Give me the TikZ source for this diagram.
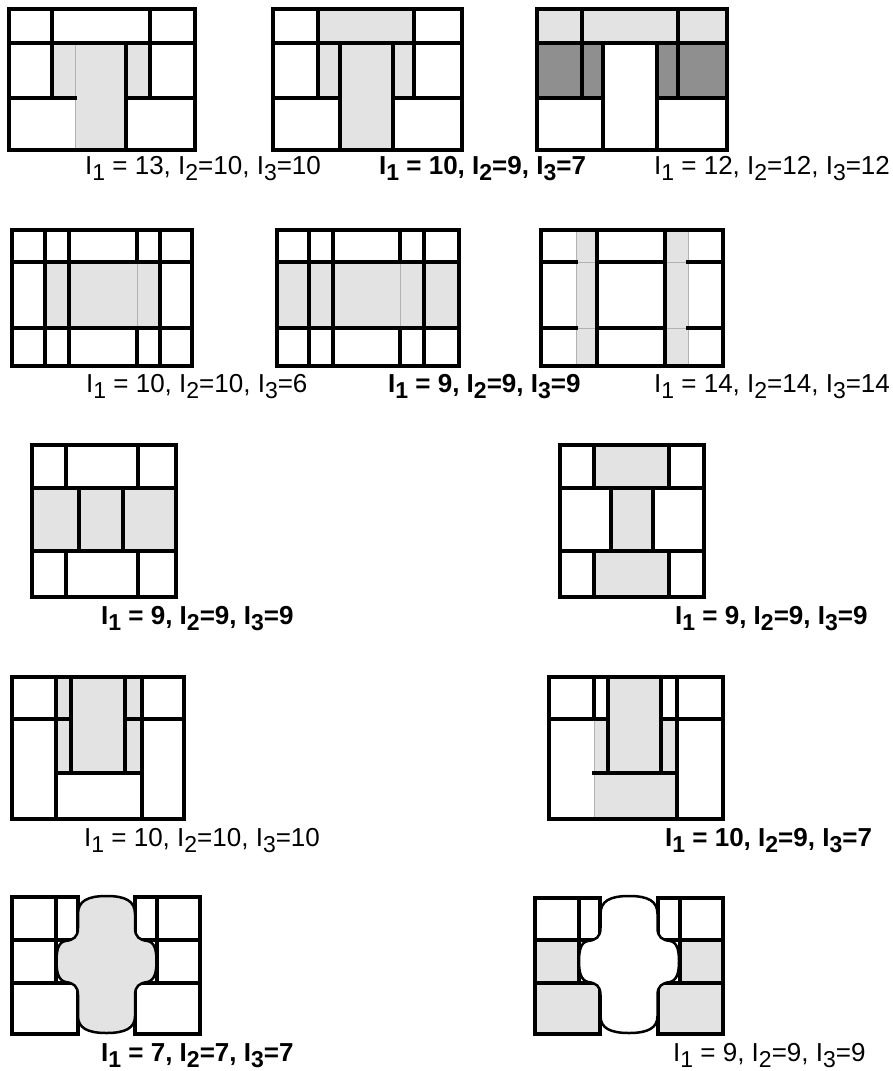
\documentclass[tikz,border=0pt]{standalone}
\usepackage{fontspec}
\setmainfont{Liberation Sans}
\definecolor{lg}{RGB}{227,227,227}
\definecolor{dg}{RGB}{143,143,143}
\newcommand\lsub[1]{\raisebox{-6.5pt}{\fontsize{23}{23}\selectfont #1}}
\newcommand\blobpath{(0,896) .. controls (19,896) and (28.5,901) .. (28.5,914) -- (28.5,928) .. controls (28.5,937) and (33,940) .. (41,941) .. controls (48,942) and (50,950) .. (50,961) .. controls (50,973) and (48,980) .. (41,982) .. controls (33,983) and (28.5,986) .. (28.5,995) -- (28.5,1016) .. controls (28.5,1028) and (19,1033) .. (0,1033) .. controls (-19,1033) and (-28.5,1028) .. (-28.5,1016) -- (-28.5,995) .. controls (-28.5,986) and (-33,983) .. (-41,982) .. controls (-48,980) and (-50,973) .. (-50,961) .. controls (-50,950) and (-48,942) .. (-41,941) .. controls (-33,940) and (-28.5,937) .. (-28.5,928) -- (-28.5,914) .. controls (-28.5,901) and (-19,896) .. (0,896) -- cycle}
\begin{document}
\begin{tikzpicture}[x=1pt,y=-1pt,
  bline/.style={line width=3.1pt,line cap=rect,black},
  gline/.style={line width=0.9pt,gray!60},
  blobline/.style={line width=2.5pt,black},
  lab/.style={anchor=base west,inner sep=0pt,font=\fontsize{26}{30}\selectfont},
  blab/.style={lab,font=\fontsize{26}{30}\selectfont\bfseries}]
\useasboundingbox[fill=white] (0,0) rectangle (893,1071);
% ---- Panel 1
\fill[lg] (52,43) rectangle (150,98) (75,43) rectangle (126,150);
\draw[gline] (75,43) -- (75,150);
\draw[bline] (9,9) rectangle (195,150);
\draw[bline] (9,43) -- (195,43) (9,98) -- (75,98) (126,98) -- (195,98);
\draw[bline] (52,9) -- (52,98) (150,9) -- (150,98) (126,43) -- (126,150);
% ---- Panel 2
\fill[lg] (318,9) rectangle (414,98) (340,43) rectangle (393,150);
\draw[bline] (273,9) rectangle (462,150);
\draw[bline] (273,43) -- (462,43) (273,98) -- (340,98) (393,98) -- (462,98);
\draw[bline] (318,9) -- (318,98) (414,9) -- (414,98) (340,43) -- (340,150) (393,43) -- (393,150);
% ---- Panel 3
\fill[lg] (537,9) rectangle (727,43);
\fill[dg] (537,43) rectangle (603,98) (657,43) rectangle (727,98);
\draw[bline] (537,9) rectangle (727,150);
\draw[bline] (537,43) -- (727,43) (537,98) -- (603,98) (657,98) -- (727,98);
\draw[bline] (582,9) -- (582,98) (678,9) -- (678,98) (603,43) -- (603,150) (657,43) -- (657,150);
% ---- Panel 4
\fill[lg] (45,262) rectangle (160,328);
\draw[gline] (137,262) -- (137,328);
\draw[bline] (12,230) rectangle (192,366);
\draw[bline] (12,262) -- (192,262) (12,328) -- (192,328);
\draw[bline] (45,230) -- (45,366) (69,230) -- (69,366) (160,230) -- (160,366) (137,230) -- (137,262) (137,328) -- (137,366);
% ---- Panel 5
\fill[lg] (277,262) rectangle (459,328);
\draw[gline] (400,262) -- (400,328);
\draw[bline] (277,230) rectangle (459,366);
\draw[bline] (277,262) -- (459,262) (277,328) -- (459,328);
\draw[bline] (309,230) -- (309,366) (333,230) -- (333,366) (424,230) -- (424,366) (400,230) -- (400,262) (400,328) -- (400,366);
% ---- Panel 6
\fill[lg] (576,230) rectangle (597,366) (665,230) rectangle (688,366);
\draw[gline] (576,230) -- (576,366) (688,230) -- (688,366) (576,262) -- (597,262) (576,328) -- (597,328) (665,262) -- (688,262) (665,328) -- (688,328);
\draw[bline] (541,230) rectangle (723,366);
\draw[bline] (541,262) -- (576,262) (597,262) -- (665,262) (688,262) -- (723,262);
\draw[bline] (541,328) -- (576,328) (597,328) -- (665,328) (688,328) -- (723,328);
\draw[bline] (597,230) -- (597,366) (665,230) -- (665,366);
% ---- Panel 7
\fill[lg] (32,488) rectangle (176,551);
\draw[bline] (32,445) rectangle (176,597);
\draw[bline] (32,488) -- (176,488) (32,551) -- (176,551);
\draw[bline] (66,445) -- (66,488) (138,445) -- (138,488) (66,551) -- (66,597) (138,551) -- (138,597);
\draw[bline] (79,488) -- (79,551) (123,488) -- (123,551);
% ---- Panel 8
\fill[lg] (594,445) rectangle (669,488) (594,551) rectangle (669,597) (611,488) rectangle (653,551);
\draw[bline] (560,445) rectangle (704,597);
\draw[bline] (560,488) -- (704,488) (560,551) -- (704,551);
\draw[bline] (594,445) -- (594,488) (669,445) -- (669,488) (594,551) -- (594,597) (669,551) -- (669,597) (611,488) -- (611,551) (653,488) -- (653,551);
% ---- Panel 9
\fill[lg] (56,677) rectangle (142,773);
\draw[bline] (12,677) rectangle (184,819);
\draw[bline] (12,719) -- (71,719) (125,719) -- (184,719);
\draw[bline] (56,677) -- (56,819) (142,677) -- (142,819) (71,677) -- (71,773) (125,677) -- (125,773) (56,773) -- (142,773);
% ---- Panel 10
\fill[lg] (608,677) rectangle (661,773) (594,719) rectangle (677,819);
\draw[gline] (594,719) -- (594,819);
\draw[bline] (549,677) rectangle (723,819);
\draw[bline] (549,719) -- (608,719) (661,719) -- (723,719);
\draw[bline] (594,677) -- (594,719) (677,677) -- (677,819) (608,677) -- (608,773) (661,677) -- (661,773) (594,773) -- (677,773);
% ---- Panel 11
\draw[bline] (12,897) rectangle (56,940) (56,897) rectangle (78,940) (135,897) rectangle (157,940) (157,897) rectangle (200,940)
  (12,940) rectangle (56,983) (157,940) rectangle (200,983) (12,983) rectangle (78,1034) (135,983) rectangle (200,1034);
\begin{scope}[shift={(106.5,0)}]
\draw[blobline,fill=lg] \blobpath;
\end{scope}
% ---- Panel 12
\fill[lg] (535,940) rectangle (579,983) (680,940) rectangle (723,983) (535,983) rectangle (600,1034) (658,983) rectangle (723,1034);
\draw[bline] (535,898) rectangle (579,940) (579,898) rectangle (600,940) (658,898) rectangle (680,940) (680,898) rectangle (723,940)
  (535,940) rectangle (579,983) (680,940) rectangle (723,983) (535,983) rectangle (600,1034) (658,983) rectangle (723,1034);
\begin{scope}[shift={(629,0)}]
\draw[blobline,fill=white] \blobpath;
\end{scope}
% ---- Labels
\node[lab]  (t1)  at (85,174)   {I\lsub{1} = 13, I\lsub{2}=10, I\lsub{3}=10};
\node[blab] (t2)  at (379,174)  {I\lsub{1} = 10, I\lsub{2}=9, I\lsub{3}=7};
\node[lab]  (t3)  at (654,174)  {I\lsub{1} = 12, I\lsub{2}=12, I\lsub{3}=12};
\node[lab]  (t4)  at (86,392)   {I\lsub{1} = 10, I\lsub{2}=10, I\lsub{3}=6};
\node[blab] (t5)  at (388,392)  {I\lsub{1} = 9, I\lsub{2}=9, I\lsub{3}=9};
\node[lab]  (t6)  at (654,392)  {I\lsub{1} = 14, I\lsub{2}=14, I\lsub{3}=14};
\node[blab] (t7)  at (101,624)  {I\lsub{1} = 9, I\lsub{2}=9, I\lsub{3}=9};
\node[blab] (t8)  at (675,624)  {I\lsub{1} = 9, I\lsub{2}=9, I\lsub{3}=9};
\node[lab]  (t9)  at (84,846)   {I\lsub{1} = 10, I\lsub{2}=10, I\lsub{3}=10};
\node[blab] (t10) at (665,846)  {I\lsub{1} = 10, I\lsub{2}=9, I\lsub{3}=7};
\node[blab] (t11) at (101,1061) {I\lsub{1} = 7, I\lsub{2}=7, I\lsub{3}=7};
\node[lab]  (t12) at (673,1061) {I\lsub{1} = 9, I\lsub{2}=9, I\lsub{3}=9};
\end{tikzpicture}
\end{document}
